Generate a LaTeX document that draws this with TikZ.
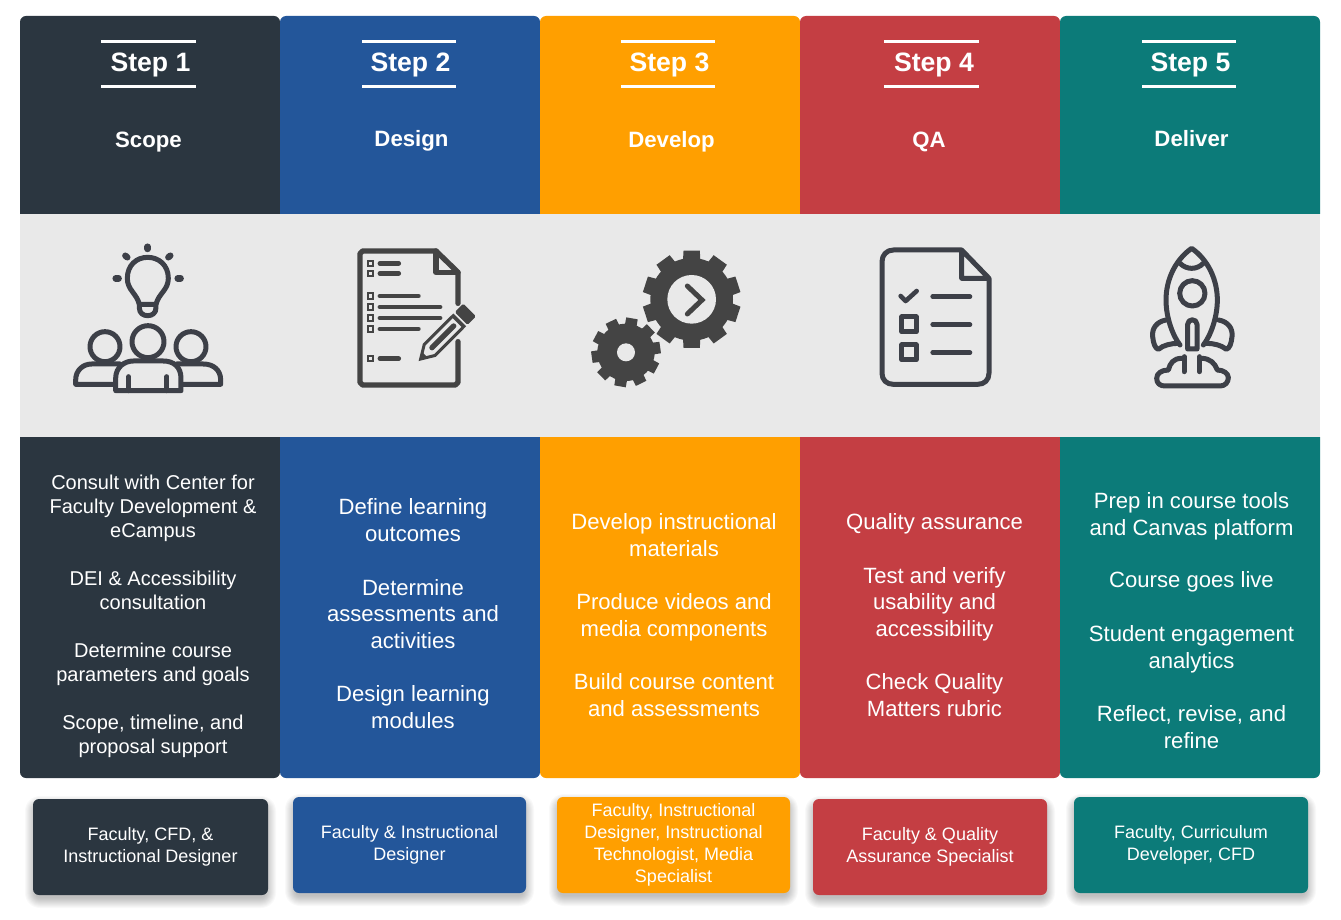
\documentclass[tikz,border=0pt]{standalone}
\usepackage{fontspec}
\setmainfont{Liberation Sans}
\definecolor{cdark}{HTML}{2B3640}
\definecolor{cblue}{HTML}{23569A}
\definecolor{corange}{HTML}{FF9F00}
\definecolor{cred}{HTML}{C43E43}
\definecolor{cteal}{HTML}{0C7B79}
\definecolor{cband}{HTML}{E9E9E9}
\definecolor{iconA}{HTML}{3D4048}
\definecolor{iconB}{HTML}{444444}
\tikzset{
  steplabel/.style={text=white,inner sep=0pt,align=center,font=\fontsize{26.6}{30}\selectfont\bfseries},
  titlelabel/.style={text=white,inner sep=0pt,align=center,font=\fontsize{22.2}{27}\selectfont\bfseries},
  bodytext/.style={text=white,inner sep=0pt,align=center,font=\fontsize{22.1}{26.6}\selectfont},
  bodysmall/.style={text=white,inner sep=0pt,align=center,font=\fontsize{20}{24}\selectfont},
  rolebox/.style={text=white,inner sep=0pt,align=center,font=\fontsize{18}{22}\selectfont,
     rounded corners=6pt,minimum width=234pt,minimum height=96pt},
  icon/.style={line width=5pt,line cap=round,line join=round},
  zoomed/.style={x=0.33333pt,y=-0.33333pt}
}
\newcommand{\colhead}[3]{\fill[#1,rounded corners=6pt] (#2,214) -- (#2,16) -- (#3,16) -- (#3,214);}
\newcommand{\colbody}[3]{\fill[#1,rounded corners=6pt] (#2,437) -- (#2,778) -- (#3,778) -- (#3,437);}
\newcommand{\steprules}[2]{\fill[white] (#1,40) rectangle (#2,43); \fill[white] (#1,85) rectangle (#2,88);}
\newcommand{\softshadow}[4]{%
  \foreach \g in {9,8,...,-1}{
    \pgfmathsetmacro{\rr}{max(6+\g,2)}
    \fill[black,opacity=0.024,rounded corners=\rr pt] (#1-\g+1,#2+6-\g) rectangle (#3+\g-1,#4+4+\g);
  }}
\newcommand{\gear}[6]{% cx cy outer root hole start
  \fill[iconB] (#1,#2) circle[radius=#4];
  \foreach \k in {0,...,9}{
    \pgfmathsetmacro{\a}{#6+36*\k}
    \fill[iconB] ($(#1,#2)+({(#4-4)*cos(\a-12.5)},{-(#4-4)*sin(\a-12.5)})$)
      -- ($(#1,#2)+({#3*cos(\a-9.5)},{-#3*sin(\a-9.5)})$)
      -- ($(#1,#2)+({#3*cos(\a+9.5)},{-#3*sin(\a+9.5)})$)
      -- ($(#1,#2)+({(#4-4)*cos(\a+12.5)},{-(#4-4)*sin(\a+12.5)})$) -- cycle;
  }
  \fill[cband] (#1,#2) circle[radius=#5];
}
\usetikzlibrary{calc}
\begin{document}
\begin{tikzpicture}[x=1pt,y=-1pt]
\useasboundingbox (0,0) rectangle (1341,920);
\fill[white] (0,0) rectangle (1341,920);
% band
\fill[cband] (20,214) rectangle (1320,437);
% columns
\colhead{cdark}{20}{280}\colhead{cblue}{280}{540}\colhead{corange}{540}{800}\colhead{cred}{800}{1060}\colhead{cteal}{1060}{1320}
\colbody{cdark}{20}{280}\colbody{cblue}{280}{540}\colbody{corange}{540}{800}\colbody{cred}{800}{1060}\colbody{cteal}{1060}{1320}
% step rules
\steprules{101}{196}\steprules{362}{456}\steprules{621}{715}\steprules{884}{979}\steprules{1142}{1236}
\node[steplabel] (s1) at (150.5,65) {Step 1};
\node[steplabel] (s2) at (410.5,65) {Step 2};
\node[steplabel] (s3) at (669.5,65) {Step 3};
\node[steplabel] (s4) at (934,65) {Step 4};
\node[steplabel] (s5) at (1190.5,65) {Step 5};
\node[titlelabel] (t1) at (148.5,142) {Scope};
\node[titlelabel] (t2) at (411.5,141) {Design};
\node[titlelabel] (t3) at (671.5,142) {Develop};
\node[titlelabel] (t4) at (929,142) {QA};
\node[titlelabel] (t5) at (1191.5,138.5) {Deliver};
% icon 1
\begin{scope}[shift={(20,215)},zoomed,icon,draw=iconA]
  \draw (358,268) .. controls (350,235) and (322,225) .. (322,190) .. controls (322,150) and (350,127) .. (383,127) .. controls (416,127) and (445,150) .. (445,190) .. controls (445,225) and (416,235) .. (408,268) -- cycle;
  \draw (358,268) -- (358,278) .. controls (358,295) and (370,302) .. (383,302) .. controls (396,302) and (408,295) .. (408,278) -- (408,268);
  \begin{scope}[line width=6.4pt]
  \draw (287,190) -- (296,190);
  \draw (473,190) -- (482,190);
  \draw (383,95) -- (383,102);
  \draw (316,122) -- (322,127);
  \draw (451,122) -- (445,127);
  \end{scope}
  \draw (384,380) circle[radius=48];
  \draw (255,395) circle[radius=45];
  \draw (513,395) circle[radius=45];
  \draw (287,527) -- (287,490) .. controls (287,455) and (315,438) .. (340,438) -- (430,438) .. controls (460,438) and (483,455) .. (483,490) -- (483,527) -- cycle;
  \draw (326,485) -- (326,527);
  \draw (441,485) -- (441,527);
  \draw (285,508) -- (167,508) -- (167,495) .. controls (167,465) and (190,447) .. (215,447) -- (300,447);
  \draw (485,508) -- (602,508) -- (602,495) .. controls (602,465) and (580,447) .. (550,447) -- (470,447);
\end{scope}
% icon 2
\begin{scope}[shift={(20,215)},zoomed,icon,line width=5.4pt,draw=iconB]
  \draw (1314,380) -- (1314,502) -- (1306,510) -- (1028,510) -- (1020,502) -- (1020,116) -- (1028,108) -- (1248,108) -- (1314,172) -- (1314,265);
  \draw (1248,108) -- (1248,172) -- (1314,172);
  \foreach \yy in {145,175,243,276,309,342,431}{
    \draw[line width=1.7pt,line cap=butt,line join=miter] (1044,\yy-8) rectangle (1060,\yy+8);
  }
  \begin{scope}[line width=4.8pt]
  \draw (1080,145) -- (1136,145);
  \draw (1080,175) -- (1136,175);
  \draw (1080,243) -- (1195,243);
  \draw (1080,276) -- (1260,276);
  \draw (1080,309) -- (1260,309);
  \draw (1080,342) -- (1195,342);
  \draw (1080,431) -- (1136,431);
  \end{scope}
  \begin{scope}[shift={(1202,432)},rotate=45]
    \fill[iconB,rounded corners=1.5pt] (172,-27) rectangle (208,27);
    \fill[iconB] (155,-27) rectangle (166,27);
    \draw[line width=3pt,line join=miter] (155,-23) -- (38,-23) -- (0,0) -- (38,23) -- (155,23);
    \draw[line width=5.4pt] (48,0) -- (140,0);
    \fill[iconB] (0,0) -- (18,-11) -- (18,11) -- cycle;
  \end{scope}
\end{scope}
% icon 3
\begin{scope}[shift={(560,215)},zoomed]
  \gear{395}{253}{148}{124}{73}{18}
  \gear{198}{412}{105}{86}{27}{8}
  \draw[line width=5pt,line cap=round,line join=miter,draw=iconB] (382,213) -- (426,255) -- (382,297);
\end{scope}
% icon 4
\begin{scope}[shift={(560,215)},zoomed,icon,draw=iconA]
  \draw (1205,105) -- (1000,105) .. controls (980,105) and (966,120) .. (966,140) -- (966,475) .. controls (966,495) and (980,508) .. (1000,508) -- (1253,508) .. controls (1273,508) and (1287,495) .. (1287,475) -- (1287,190) -- (1205,105) -- (1205,190) -- (1287,190);
  \draw[line width=4.6pt] (1022,243) -- (1037,258) -- (1070,228);
  \draw (1025,306) rectangle (1069,350);
  \draw (1025,390) rectangle (1069,434);
  \begin{scope}[line width=4.6pt]
  \draw (1118,245) -- (1230,245);
  \draw (1118,329) -- (1230,329);
  \draw (1118,413) -- (1230,413);
  \end{scope}
\end{scope}
% icon 5
\begin{scope}[shift={(1100,225)},zoomed,icon,line width=5pt,draw=iconA]
  \draw (240,360) .. controls (220,335) and (198,280) .. (198,225) .. controls (198,165) and (225,105) .. (275,70) .. controls (325,105) and (352,165) .. (352,225) .. controls (352,280) and (330,335) .. (310,360);
  \draw (240,115) .. controls (260,135) and (290,135) .. (310,115);
  \draw (277,205) circle[radius=38];
  \draw (263,372) -- (263,298) .. controls (263,280) and (291,280) .. (291,298) -- (291,372) -- cycle;
  \draw (198,285) .. controls (170,290) and (155,310) .. (158,335) .. controls (160,355) and (165,370) .. (175,373) .. controls (190,360) and (215,355) .. (235,355);
  \draw (356,285) .. controls (384,290) and (399,310) .. (396,335) .. controls (394,355) and (389,370) .. (379,373) .. controls (364,360) and (339,355) .. (319,355);
  \draw (252,395) -- (252,440);
  \draw (298,395) -- (298,440);
  \draw (245,400) .. controls (220,400) and (210,415) .. (205,435) .. controls (185,435) and (170,445) .. (170,460) .. controls (170,475) and (180,483) .. (195,483) -- (360,483) .. controls (375,483) and (385,472) .. (385,458) .. controls (385,445) and (370,435) .. (352,435) .. controls (345,415) and (330,400) .. (305,400);
\end{scope}
% body text
\node[bodysmall] (b11) at (153,508) {Consult with Center for\\Faculty Development \&\\eCampus};
\node[bodysmall] (b12) at (153,590) {DEI \& Accessibility\\consultation};
\node[bodysmall] (b13) at (153,664) {Determine course\\parameters and goals};
\node[bodysmall] (b14) at (153,736) {Scope, timeline, and\\proposal support};
\node[bodytext] (b21) at (413,520) {Define learning\\outcomes};
\node[bodytext] (b22) at (413,614) {Determine\\assessments and\\activities};
\node[bodytext] (b23) at (413,707) {Design learning\\modules};
\node[bodytext] (b31) at (674,535) {Develop instructional\\materials};
\node[bodytext] (b32) at (674,617) {Produce videos and\\media components};
\node[bodytext] (b33) at (674,695) {Build course content\\and assessments};
\node[bodytext] (b41) at (934.5,524) {Quality assurance};
\node[bodytext] (b42) at (934.5,604) {Test and verify\\usability and\\accessibility};
\node[bodytext] (b43) at (934.5,695) {Check Quality\\Matters rubric};
\node[bodytext] (b51) at (1191.5,516) {Prep in course tools\\and Canvas platform};
\node[bodytext] (b52) at (1191.5,582) {Course goes live};
\node[bodytext] (b53) at (1191.5,649) {Student engagement\\analytics};
\node[bodytext] (b54) at (1191.5,727) {Reflect, revise, and\\refine};
% role boxes
\softshadow{33}{799}{268}{895}
\softshadow{293}{797}{526}{893}
\softshadow{557}{797}{790}{893}
\softshadow{813}{799}{1047}{895}
\softshadow{1074}{797}{1308}{893}
\node[rolebox,fill=cdark,minimum width=235pt] (r1) at (150.5,847) {Faculty, CFD, \&\\Instructional Designer};
\node[rolebox,fill=cblue,minimum width=233pt] (r2) at (409.5,845) {Faculty \& Instructional\\Designer};
\node[rolebox,fill=corange,minimum width=233pt] (r3) at (673.5,845) {Faculty, Instructional\\Designer, Instructional\\Technologist, Media\\Specialist};
\node[rolebox,fill=cred] (r4) at (930,847) {Faculty \& Quality\\Assurance Specialist};
\node[rolebox,fill=cteal] (r5) at (1191,845) {Faculty, Curriculum\\Developer, CFD};
\end{tikzpicture}
\end{document}
